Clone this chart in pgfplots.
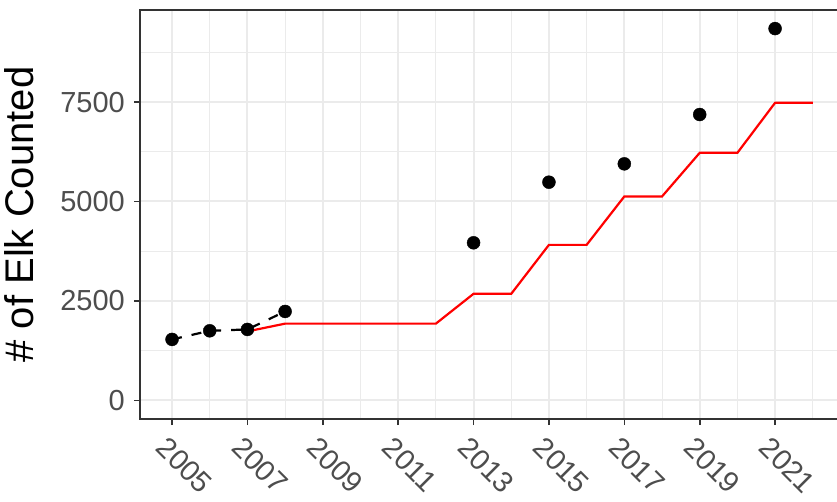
\documentclass[border=0pt]{standalone}
\usepackage{pgfplots}
\pgfplotsset{compat=1.18}
\usepackage{fontspec}
\setmainfont{Liberation Sans}
\usetikzlibrary{calc}
\definecolor{gridc}{HTML}{EBEBEB}
\definecolor{framec}{HTML}{333333}
\definecolor{tickc}{HTML}{4D4D4D}
\newcommand{\tf}[1]{{\fontsize{29}{34}\selectfont #1}}

\begin{document}
\begin{tikzpicture}
\begin{axis}[
  scale only axis, width=704.8pt, height=409pt,
  xmin=2004.15, xmax=2022.85, ymin=-467, ymax=9813,
  xtick={2005,2007,...,2021}, ytick={0,2500,5000,7500},
  xticklabels={\tf{2005},\tf{2007},\tf{2009},\tf{2011},\tf{2013},\tf{2015},\tf{2017},\tf{2019},\tf{2021}},
  yticklabels={\tf{0},\tf{2500},\tf{5000},\tf{7500}},
  minor xtick={2006,2008,...,2022}, minor ytick={1250,3750,6250,8750},
  grid=both,
  major grid style={gridc, line width=2pt},
  minor grid style={gridc, line width=1pt},
  axis line style={framec, line width=1.4pt},
  tick pos=left, tick align=outside,
  major tick length=6pt, minor tick length=0pt,
  tick style={framec, line width=1.6pt},
  yticklabel style={text=tickc, anchor=east, inner sep=0pt, xshift=-9pt},
  xticklabel style={text=tickc, inner sep=0pt, xshift=-3pt, yshift=-10pt, rotate=-45, anchor=north west},
  ylabel={\# of Elk Counted},
  ylabel style={font=\fontsize{40}{46}\selectfont, at={(axis description cs:-0.1518,0.5)}, anchor=base},
]
% red step line
\addplot[red, line width=2.2pt] coordinates {
  (2007,1735) (2008,1930) (2012,1930) (2013,2680) (2014,2680)
  (2015,3910) (2016,3910) (2017,5126) (2018,5126) (2019,6223)
  (2020,6223) (2021,7480) (2022,7480)};
% dashed early trend
\addplot[black, line width=2.2pt, dash pattern=on 10pt off 10pt] coordinates {
  (2005,1533) (2006,1750) (2007,1784) (2008,2236)};
% counts
\addplot[only marks, mark=*, mark size=6.5pt, black] coordinates {
  (2005,1533) (2006,1750) (2007,1784) (2008,2236) (2013,3962)
  (2015,5485) (2017,5946) (2019,7186) (2021,9346)};
\end{axis}
\pgfresetboundingbox
\useasboundingbox ($(current axis.south west)+(-140pt,-82pt)$) rectangle ($(current axis.north west)+(697pt,10pt)$);
\end{tikzpicture}
\end{document}
